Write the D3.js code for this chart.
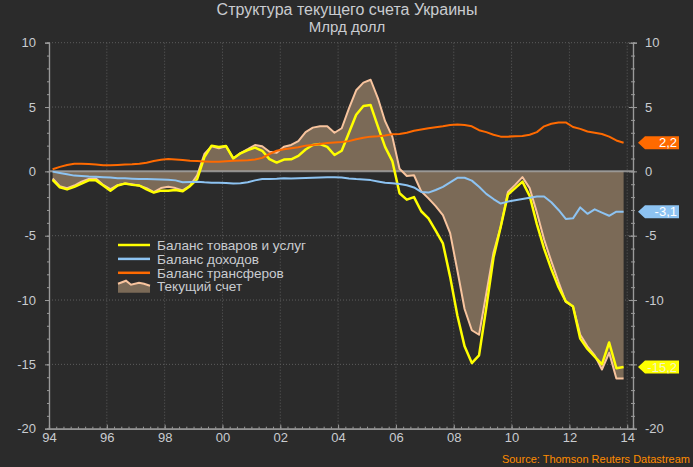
<!DOCTYPE html>
<html>
<head>
<meta charset="utf-8">
<script src="https://cdn.jsdelivr.net/npm/d3@7/dist/d3.min.js"></script>
<style>
  html, body { margin: 0; padding: 0; background: #2b2b2b; }
  svg { display: block; font-family: "Liberation Sans", Arial, sans-serif; }
</style>
</head>
<body>
<svg id="chart" width="693" height="467"></svg>
<script>
// ---------------- DATA (quarterly, 1994Q1 .. 2013Q4, bln USD) ----------------
const title = "Структура текущего счета Украины";
const subtitle = "Млрд долл";
const source = "Source: Thomson Reuters Datastream";
const seriesNames = ["Баланс товаров и услуг", "Баланс доходов", "Баланс трансферов", "Текущий счет"];
const firstYear = 1994;
const xTickYears = [1994, 1996, 1998, 2000, 2002, 2004, 2006, 2008, 2010, 2012, 2014];
const xTickLabels = ["94", "96", "98", "00", "02", "04", "06", "08", "10", "12", "14"];
const yTicks = [-20, -15, -10, -5, 0, 5, 10];

const goodsServices = [
  -0.67, -1.24, -1.40, -1.20, -0.95, -0.70, -0.70, -1.10, -1.50, -1.10,
  -0.95, -1.05, -1.10, -1.40, -1.65, -1.50, -1.50, -1.45, -1.55, -1.15,
  -0.60, 1.10, 2.00, 1.90, 1.97, 1.00, 1.40, 1.65, 1.85, 1.60,
  0.95, 0.68, 0.92, 0.94, 1.20, 1.70, 2.05, 2.12, 1.90, 1.27,
  1.60, 3.00, 4.40, 5.08, 5.15, 3.50, 1.90, 0.80, -1.70, -2.20,
  -2.00, -3.10, -3.65, -4.60, -5.60, -8.20, -11.20, -13.60, -14.90, -14.30,
  -10.60, -6.70, -4.30, -1.80, -1.30, -0.80, -1.90, -4.10, -6.00, -7.60,
  -9.00, -10.10, -10.50, -13.00, -13.80, -14.40, -15.00, -13.30, -15.30, -15.20
];
const income = [
  -0.02, -0.12, -0.22, -0.33, -0.36, -0.40, -0.42, -0.45, -0.47, -0.53,
  -0.54, -0.57, -0.59, -0.60, -0.61, -0.63, -0.65, -0.70, -0.85, -0.83,
  -0.80, -0.85, -0.88, -0.88, -0.90, -0.95, -0.93, -0.85, -0.70, -0.60,
  -0.60, -0.58, -0.54, -0.55, -0.54, -0.52, -0.50, -0.48, -0.46, -0.46,
  -0.48, -0.55, -0.60, -0.63, -0.68, -0.78, -0.88, -0.93, -0.98, -1.08,
  -1.25, -1.60, -1.65, -1.45, -1.20, -0.85, -0.50, -0.50, -0.72, -1.20,
  -1.75, -2.15, -2.50, -2.35, -2.25, -2.15, -2.05, -1.95, -1.95, -2.40,
  -3.00, -3.70, -3.65, -2.80, -3.30, -2.95, -3.20, -3.45, -3.13, -3.13
];
const transfers = [
  0.16, 0.35, 0.50, 0.60, 0.60, 0.57, 0.54, 0.48, 0.48, 0.50,
  0.53, 0.55, 0.60, 0.67, 0.80, 0.90, 0.97, 0.93, 0.88, 0.83,
  0.80, 0.77, 0.75, 0.75, 0.78, 0.82, 0.84, 0.86, 0.92, 1.05,
  1.35, 1.60, 1.72, 1.80, 1.87, 2.00, 2.05, 2.12, 2.20, 2.24,
  2.28, 2.35, 2.50, 2.62, 2.70, 2.72, 2.78, 2.88, 2.90, 3.00,
  3.15, 3.25, 3.35, 3.42, 3.50, 3.60, 3.65, 3.60, 3.50, 3.20,
  3.05, 2.85, 2.70, 2.70, 2.72, 2.75, 2.85, 3.05, 3.50, 3.70,
  3.80, 3.80, 3.45, 3.30, 3.10, 3.00, 2.90, 2.70, 2.40, 2.22
];
const currentAccount = [
  -0.55, -1.15, -1.30, -1.10, -0.80, -0.58, -0.55, -1.05, -1.38, -1.07,
  -0.95, -1.00, -1.12, -1.30, -1.62, -1.30, -1.20, -1.30, -1.48, -1.12,
  -0.30, 1.35, 1.95, 1.80, 1.95, 1.02, 1.42, 1.72, 2.05, 1.95,
  1.53, 1.45, 1.92, 2.05, 2.35, 3.05, 3.40, 3.50, 3.50, 3.00,
  3.35, 4.90, 6.30, 6.90, 7.12, 5.70, 3.90, 2.70, 0.20, -0.36,
  -0.30, -1.55, -2.10, -2.70, -3.40, -4.80, -7.70, -10.70, -12.35, -12.70,
  -9.50, -6.30, -4.30, -1.60, -1.05, -0.45, -1.30, -3.20, -5.30, -7.00,
  -8.60, -10.15, -10.50, -12.70, -13.60, -14.30, -15.40, -14.10, -16.10, -16.10
];

// ---------------- STYLE ----------------
const colors = { goods: "#ffff00", income: "#8dc3f2", transfers: "#ff6a00", ca: "#f8c49e", caFill: "#7b6a57" };
const textColor = "#c9ccd0";
const gridColor = "#5c5c5c";
const axisColor = "#9a9a9a";

const svg = d3.select("#chart");
const W = 693, H = 467;
svg.append("rect").attr("width", W).attr("height", H).attr("fill", "#2b2b2b");

const loc = d3.formatLocale({ decimal: ",", thousands: " ", grouping: [3], currency: ["", ""], minus: "-" });
const fmtInt = loc.format("d");
const fmt1 = loc.format(".1f");

const plotLeft = 49, plotRight = 633, plotTop = 42.7, plotBottom = 428.7;
const x = d3.scaleLinear().domain([1994, 2014.2]).range([plotLeft, plotRight]);
const y = d3.scaleLinear().domain([-20, 10]).range([plotBottom, plotTop]);

const tq = i => firstYear + 0.125 + i * 0.25;

// grid
const grid = svg.append("g");
grid.selectAll(".vgrid").data(xTickYears.slice(1)).join("line")
  .attr("x1", d => x(d)).attr("x2", d => x(d)).attr("y1", plotTop).attr("y2", plotBottom)
  .attr("stroke", gridColor).attr("stroke-width", 1).attr("stroke-dasharray", "1,2");
grid.selectAll(".hgrid").data(yTicks.filter(v => v !== 0 && v !== -20)).join("line")
  .attr("x1", plotLeft).attr("x2", plotRight).attr("y1", d => y(d)).attr("y2", d => y(d))
  .attr("stroke", gridColor).attr("stroke-width", 1).attr("stroke-dasharray", "1,2");

// area for current account
const idx = d3.range(currentAccount.length);
const area = d3.area().x(i => x(tq(i))).y0(y(0)).y1(i => y(currentAccount[i]));
svg.append("path").datum(idx).attr("d", area).attr("fill", colors.caFill);

// zero line
svg.append("line").attr("x1", plotLeft).attr("x2", plotRight).attr("y1", y(0)).attr("y2", y(0))
  .attr("stroke", "#a8a8a8").attr("stroke-opacity", 0.8).attr("stroke-width", 2);

function drawLine(values, color, width) {
  const line = d3.line().x((d, i) => x(tq(i))).y(d => y(d));
  svg.append("path").datum(values).attr("d", line).attr("fill", "none")
    .attr("stroke", color).attr("stroke-width", width).attr("stroke-linejoin", "round");
}
drawLine(currentAccount, colors.ca, 2);
drawLine(goodsServices, colors.goods, 2.5);
drawLine(income, colors.income, 2);
drawLine(transfers, colors.transfers, 2);

// axes
function styleAxis(sel) {
  sel.select(".domain").attr("stroke", axisColor).attr("stroke-width", 1.2);
  sel.selectAll(".tick line").attr("stroke", axisColor);
  sel.selectAll("text").attr("fill", textColor).attr("font-size", 13)
    .attr("font-family", "'Liberation Sans', Arial, sans-serif");
}
const lMinor = svg.append("g").attr("transform", `translate(${plotLeft},0)`)
  .call(d3.axisLeft(y).tickValues(d3.range(-20, 11, 1)).tickSize(2).tickFormat(""));
styleAxis(lMinor);
const lAxis = svg.append("g").attr("transform", `translate(${plotLeft},0)`)
  .call(d3.axisLeft(y).tickValues(yTicks).tickSize(4).tickPadding(9).tickFormat(fmtInt));
styleAxis(lAxis);

const rMinor = svg.append("g").attr("transform", `translate(${plotRight},0)`)
  .call(d3.axisRight(y).tickValues(d3.range(-20, 11, 1)).tickSize(2).tickFormat(""));
styleAxis(rMinor);
rMinor.selectAll(".tick line").attr("x1", -2);
// the -15 label on the right is covered by the end-value flag in the original
const rAxis = svg.append("g").attr("transform", `translate(${plotRight},0)`)
  .call(d3.axisRight(y).tickValues(yTicks).tickSize(4).tickPadding(8)
    .tickFormat(d => d === -15 ? "" : fmtInt(d)));
styleAxis(rAxis);
rAxis.selectAll(".tick line").attr("x1", -4);

const bMinor = svg.append("g").attr("transform", `translate(0,${plotBottom})`)
  .call(d3.axisBottom(x).tickValues(d3.range(1994, 2014.01, 0.25)).tickSize(-2).tickFormat(""));
styleAxis(bMinor);
const bAxis = svg.append("g").attr("transform", `translate(0,${plotBottom})`)
  .call(d3.axisBottom(x).tickValues(xTickYears).tickSize(-4).tickPadding(4)
    .tickFormat((d, i) => xTickLabels[i]));
styleAxis(bAxis);

// titles
svg.append("text").attr("x", 347).attr("y", 15).attr("text-anchor", "middle")
  .attr("fill", textColor).attr("font-size", 16).text(title);
svg.append("text").attr("x", 347).attr("y", 32).attr("text-anchor", "middle")
  .attr("fill", textColor).attr("font-size", 15).text(subtitle);
svg.append("text").attr("x", 690).attr("y", 463).attr("text-anchor", "end")
  .attr("fill", "#ff8c00").attr("font-size", 11).text(source);

// legend
const lg = svg.append("g");
const legendRows = [
  { name: seriesNames[0], color: colors.goods, type: "line" },
  { name: seriesNames[1], color: colors.income, type: "line" },
  { name: seriesNames[2], color: colors.transfers, type: "line" },
  { name: seriesNames[3], color: colors.ca, type: "area" }
];
legendRows.forEach((r, k) => {
  const cy = 245 + k * 13.9;
  if (r.type === "line") {
    lg.append("line").attr("x1", 118).attr("x2", 150).attr("y1", cy).attr("y2", cy)
      .attr("stroke", r.color).attr("stroke-width", 2.5);
  } else {
    const pts = [[118, cy - 3], [126, cy - 6], [131, cy - 2], [139, cy - 4], [144, cy - 3], [150, cy - 1]];
    const topPath = d3.line()(pts);
    lg.append("path").attr("d", topPath + `L150,${cy + 6}L118,${cy + 6}Z`).attr("fill", colors.caFill);
    lg.append("path").attr("d", topPath).attr("fill", "none").attr("stroke", r.color).attr("stroke-width", 2);
  }
  lg.append("text").attr("x", 157).attr("y", cy).attr("dy", "0.35em")
    .attr("fill", textColor).attr("font-size", 13.6).text(r.name);
});

// end-value labels
const endLabels = [
  { v: transfers[transfers.length - 1], color: colors.transfers, text: "#ffffff" },
  { v: income[income.length - 1], color: colors.income, text: "#ffffff" },
  { v: goodsServices[goodsServices.length - 1], color: colors.goods, text: "#f4f4c8" }
];
endLabels.forEach(l => {
  const cy = y(l.v);
  const x0 = 638;
  svg.append("path")
    .attr("d", `M${x0},${cy}L${x0 + 7},${cy - 6.5}L${x0 + 41},${cy - 6.5}L${x0 + 41},${cy + 6.5}L${x0 + 7},${cy + 6.5}Z`)
    .attr("fill", l.color);
  svg.append("text").attr("x", x0 + 39).attr("y", cy).attr("dy", "0.36em")
    .attr("text-anchor", "end").attr("fill", l.text).attr("font-size", 13).text(fmt1(l.v));
});
</script>
</body>
</html>
